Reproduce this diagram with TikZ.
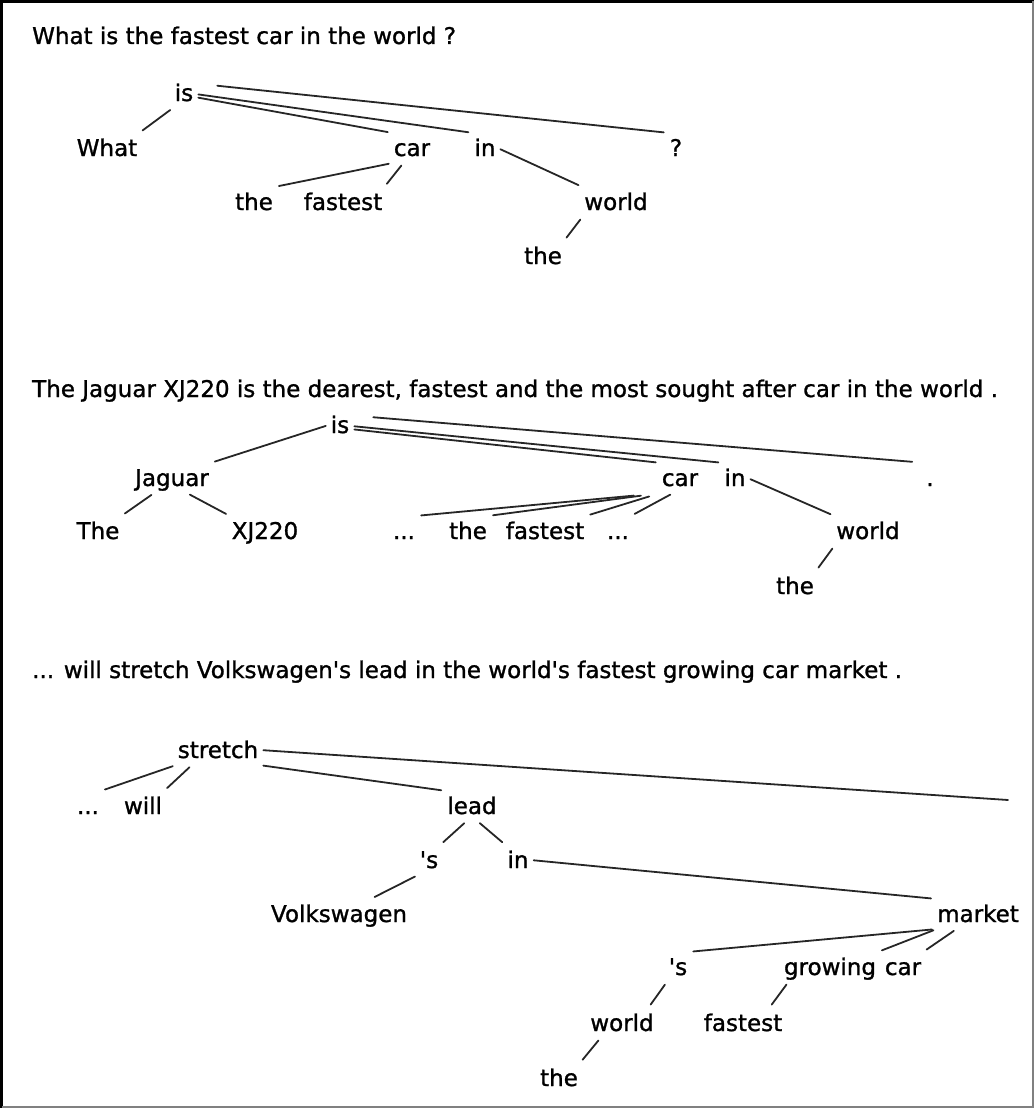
\documentclass[tikz,border=0pt]{standalone}
\usepackage{fontspec}
\setmainfont{DejaVu Sans}[FakeBold=1.2]
\begin{document}
\begin{tikzpicture}[x=1pt,y=-1pt,
  word/.style={anchor=base,inner sep=2pt,text height=21pt,text depth=5pt,font=\fontsize{23}{28}\selectfont},
  title/.style={anchor=base west,inner sep=0pt,font=\fontsize{23}{28}\selectfont},
  dep/.style={line width=1.8pt,line cap=round,draw=black!85,shorten <=3pt,shorten >=4pt}]
\useasboundingbox (0,0) rectangle (1034,1108);
% frame
\draw[black,line width=3pt] (1.5,1108) -- (1.5,1.5) -- (1034,1.5);
\draw[gray,line width=2pt] (1033,1.5) -- (1033,1107) -- (1.5,1107);

% sentence 1
\node[title] (title1) at (32,44) {What is the fastest car in the world ?};
\node[word] (is1) at (184,101) {is};
\node[word] (what1) at (107,156) {What};
\node[word] (car1) at (412,156) {car};
\node[word] (in1) at (485,156) {in};
\node[word] (q1) at (676,156) {?};
\node[word] (the1a) at (254,210) {the};
\node[word] (fastest1) at (343,210) {fastest};
\node[word] (world1) at (616,210) {world};
\node[word] (the1b) at (543,264) {the};
\draw[dep] (is1.south west) -- (what1.north east);
\draw[dep] (is1.-20) -- (car1.north west);
\draw[dep] (is1.-5) -- (in1.north west);
\draw[dep,shorten <=22pt] (is1.40) -- (q1.north west);
\draw[dep] (car1.south west) -- (the1a.north east);
\draw[dep] (car1.-120) -- (fastest1.20);
\draw[dep] (in1.east) -- (world1.north west);
\draw[dep] (world1.south west) -- (the1b.north east);

% sentence 2
\node[title] (title2) at (32,397) {The Jaguar XJ220 is the dearest, fastest and the most sought after car in the world .};
\node[word] (is2) at (340,433) {is};
\node[word] (jaguar2) at (172,486) {Jaguar};
\node[word] (the2a) at (98,539) {The};
\node[word] (xj2) at (265,539) {XJ220};
\node[word] (car2) at (680,486) {car};
\node[word] (in2) at (735,486) {in};
\node[word] (dot2) at (930,486) {.};
\node[word] (dotsa2) at (404,539) {...};
\node[word] (the2b) at (468,539) {the};
\node[word] (fastest2) at (545,539) {fastest};
\node[word] (dotsb2) at (618,539) {...};
\node[word] (world2) at (868,539) {world};
\node[word] (the2c) at (795,594) {the};
\draw[dep] (is2.west) -- (jaguar2.north east);
\draw[dep] (jaguar2.-140) -- (the2a.north east);
\draw[dep] (jaguar2.-45) -- (xj2.north west);
\draw[dep] (is2.-20) -- (car2.north west);
\draw[dep] (is2.-5) -- (in2.north west);
\draw[dep,shorten <=22pt,shorten >=12pt] (is2.40) -- (dot2.north west);
\draw[dep,shorten <=26pt] (car2.south west) -- (dotsa2.north east);
\draw[dep,shorten <=19pt] (car2.south west) -- (the2b.north east);
\draw[dep,shorten <=11pt] (car2.south west) -- (fastest2.north east);
\draw[dep] (car2.-115) -- (dotsb2.north east);
\draw[dep] (in2.east) -- (world2.north west);
\draw[dep] (world2.south west) -- (the2c.north east);

% sentence 3
\node[title] (title3) at (32,678) {... will stretch Volkswagen\textquotesingle s lead in the world\textquotesingle s fastest growing car market .};
\node[word] (stretch3) at (218,758) {stretch};
\node[word] (dots3) at (88,814) {...};
\node[word] (will3) at (143,814) {will};
\node[word] (lead3) at (472,814) {lead};
\node[word] (s3a) at (429,868) {\textquotesingle s};
\node[word] (in3) at (518,868) {in};
\node[word] (vw3) at (339,922) {Volkswagen};
\node[word] (market3) at (978,922) {market};
\node[word] (s3b) at (678,975) {\textquotesingle s};
\node[word] (growing3) at (830,975) {growing};
\node[word] (car3) at (903,975) {car};
\node[word] (world3) at (622,1031) {world};
\node[word] (fastest3) at (743,1031) {fastest};
\node[word] (the3) at (559,1086) {the};
\coordinate (cut3) at (1008,800);
\draw[dep] (stretch3.south west) -- (dots3.north east);
\draw[dep] (stretch3.-150) -- (will3.north east);
\draw[dep] (stretch3.south east) -- (lead3.north west);
\draw[dep,shorten >=0pt] (stretch3.east) -- (cut3);
\draw[dep] (lead3.-110) -- (s3a.north east);
\draw[dep] (lead3.-70) -- (in3.north west);
\draw[dep] (s3a.south west) -- ([xshift=32pt]vw3.north);
\draw[dep] (in3.east) -- (market3.north west);
\draw[dep] (market3.south west) -- (s3b.north east);
\draw[dep] (market3.-160) -- (growing3.north east);
\draw[dep] (market3.-145) -- (car3.north east);
\draw[dep] (s3b.south west) -- (world3.30);
\draw[dep] (growing3.-160) -- (fastest3.30);
\draw[dep] (world3.-145) -- (the3.north east);
\end{tikzpicture}
\end{document}
